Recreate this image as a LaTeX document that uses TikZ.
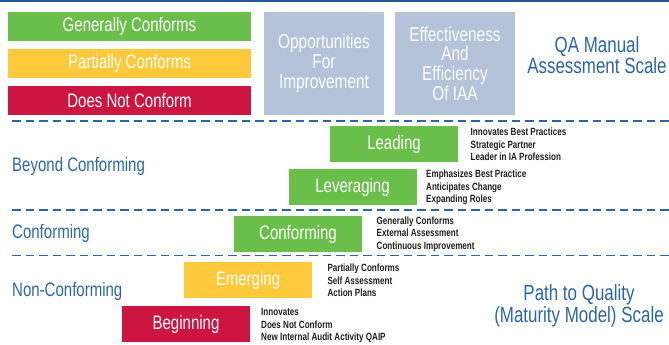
\documentclass[tikz,border=0pt]{standalone}
\usepackage{fontspec}
\setmainfont{Liberation Sans}[FakeStretch=0.77]
\definecolor{cgreen}{HTML}{6ABF4B}
\definecolor{cyellow}{HTML}{FEC93A}
\definecolor{cred}{HTML}{CC1641}
\definecolor{cgrey}{HTML}{B4C3DA}
\definecolor{cblue}{HTML}{2A66A6}
\definecolor{ctext}{HTML}{1F1F1F}
\tikzset{
  cbox/.style={draw=none, inner sep=0pt, text=white, font=\fontsize{19.5}{20}\selectfont},
  topbox/.style={cbox, minimum width=243pt, minimum height=29pt},
  greybox/.style={cbox, fill=cgrey, minimum width=120pt, minimum height=103.5pt, align=center, text=white!95!cgrey, font=\fontsize{20}{19.7}\selectfont},
  levelbox/.style={cbox, minimum width=128pt, minimum height=36pt},
  desclist/.style={anchor=base west, inner sep=0pt, align=left, text=ctext, font=\fontsize{10.5}{12.4}\selectfont\bfseries},
  rowlabel/.style={anchor=base west, inner sep=0pt, text=cblue, font=\fontsize{19.5}{20}\selectfont},
  scaletitle/.style={inner sep=0pt, align=center, text=cblue, font=\fontsize{22}{20}\selectfont},
  sepline/.style={draw=cblue, line width=1.8pt, dash pattern=on 8.5pt off 5pt, dash phase=0pt}
}
\begin{document}
\begin{tikzpicture}[x=1pt,y=-1pt]
\useasboundingbox (0,0) rectangle (669,345);
% top rule
\draw[cblue!85!black, line width=1.6pt] (0,1) -- (669,1);
% top legend boxes
\node[topbox, fill=cgreen] (gc) at (129.5,26.5) {Generally Conforms};
\node[topbox, fill=cyellow] (pc) at (129.5,63.5) {Partially Conforms};
\node[topbox, fill=cred] (dnc) at (129.5,100.5) {Does Not Conform};
\node[greybox] (ofi) at (324,63.5) {Opportunities\\For\\Improvement};
\node[greybox] (eff) at (455,63.5) {Effectiveness\\And\\Efficiency\\Of IAA};
\node[scaletitle] (qa) at (597,55) {QA Manual\\Assessment Scale};
% separators
\coordinate (s1a) at (12,121); \coordinate (s1b) at (669,121);
\coordinate (s2a) at (12,210); \coordinate (s2b) at (669,210);
\coordinate (s3a) at (12,255.5); \coordinate (s3b) at (669,255.5);
\draw[sepline] (s1a) -- (s1b);
\draw[sepline] (s2a) -- (s2b);
\draw[sepline] (s3a) -- (s3b);
% row labels
\node[rowlabel] (lbc) at (12,171) {Beyond Conforming};
\node[rowlabel] (lc) at (12,238.5) {Conforming};
\node[rowlabel] (lnc) at (12,296.5) {Non-Conforming};
% maturity levels
\node[levelbox, fill=cgreen] (leading) at (394,144) {Leading};
\node[levelbox, fill=cgreen] (leveraging) at (352.5,187) {Leveraging};
\node[levelbox, fill=cgreen] (conforming) at (298,234) {Conforming};
\node[levelbox, fill=cyellow] (emerging) at (248,280) {Emerging};
\node[levelbox, fill=cred] (beginning) at (186,324) {Beginning};
% descriptions (anchored at the baseline of the last line)
\node[desclist] (dlead) at (470.5,160.7) {Innovates Best Practices\\Strategic Partner\\Leader in IA Profession};
\node[desclist] (dlev) at (426,202.7) {Emphasizes Best Practice\\Anticipates Change\\Expanding Roles};
\node[desclist] (dconf) at (376.5,249.2) {Generally Conforms\\External Assessment\\Continuous Improvement};
\node[desclist] (demer) at (327.3,296.7) {Partially Conforms\\Self Assessment\\Action Plans};
\node[desclist] (dbeg) at (261,340.7) {Innovates\\Does Not Conform\\New Internal Audit Activity QAIP};
\node[scaletitle] (ptq) at (579,306) {Path to Quality\\(Maturity Model) Scale};
\end{tikzpicture}
\end{document}
